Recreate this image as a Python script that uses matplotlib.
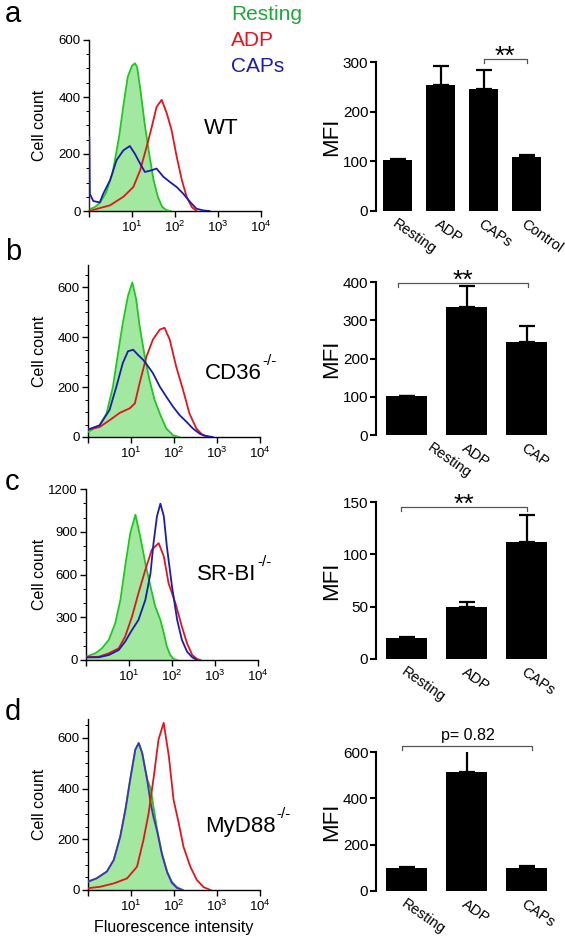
import numpy as np
import matplotlib
matplotlib.use('Agg')
import matplotlib.pyplot as plt
import matplotlib.transforms as mtransforms
from matplotlib.ticker import FixedLocator, MultipleLocator, NullFormatter, LogLocator

# --- colours ---
GREEN_LINE = '#1ec81e'
GREEN_FILL = '#a3e8a0'
GREEN_TXT = '#1fa83a'
RED = '#e3141b'
BLUE = '#1c1cae'
PURPLE = '#4a2cc4'
GREY = '#555555'

plt.rcParams.update({
    'font.family': ['Liberation Sans', 'DejaVu Sans'],
    'mathtext.default': 'regular',
    'axes.spines.top': False,
    'axes.spines.right': False,
    'axes.linewidth': 1.0,
})

# --- histogram data: log10(fluorescence) and cell counts ---
A_REST_LOG = [0.0, 0.15, 0.26, 0.4, 0.55, 0.7, 0.8, 0.9, 1.0, 1.07, 1.12, 1.2, 1.3, 1.4, 1.5, 1.6, 1.7, 1.8, 1.9]
A_REST_CNT = [5, 15, 30, 65, 135, 260, 370, 470, 510, 518, 505, 420, 300, 200, 110, 50, 15, 3, 0]
A_ADP_LOG = [0.0, 0.49, 0.8, 1.03, 1.19, 1.34, 1.46, 1.57, 1.69, 1.81, 1.92, 2.04, 2.16, 2.27, 2.39, 2.5]
A_ADP_CNT = [0, 20, 50, 84, 143, 225, 295, 365, 390, 342, 284, 190, 108, 50, 14, 0]
A_CAP_LOG = [0.0, 0.005, 0.02, 0.1, 0.25, 0.33, 0.49, 0.64, 0.8, 0.95, 1.07, 1.19, 1.3, 1.46,
             1.57, 1.73, 1.88, 2.04, 2.19, 2.35, 2.5, 2.66, 2.8]
A_CAP_CNT = [0, 260, 60, 35, 30, 60, 108, 178, 213, 228, 200, 166, 137, 143,
             149, 120, 102, 84, 61, 32, 8, 2, 0]

B_REST_LOG = [0.0, 0.27, 0.43, 0.58, 0.7, 0.81, 0.93, 1.03, 1.12, 1.2, 1.32, 1.43, 1.55, 1.67, 1.82, 1.98, 2.12]
B_REST_CNT = [20, 47, 94, 202, 337, 458, 566, 620, 553, 445, 323, 229, 148, 94, 34, 7, 0]
B_ADP_LOG = [0.0, 0.27, 0.5, 0.74, 0.97, 1.09, 1.2, 1.36, 1.51, 1.67, 1.78, 1.9, 2.05, 2.21, 2.36, 2.52, 2.67, 2.83]
B_ADP_CNT = [30, 40, 67, 97, 115, 135, 216, 323, 391, 431, 438, 391, 283, 189, 94, 34, 7, 0]
B_CAP_LOG = [0.0, 0.27, 0.5, 0.66, 0.81, 0.93, 1.05, 1.16, 1.28, 1.4, 1.51, 1.67, 1.82, 1.98,
             2.13, 2.29, 2.44, 2.6, 2.75, 2.9]
B_CAP_CNT = [30, 47, 108, 202, 297, 344, 350, 330, 310, 283, 256, 202, 162, 121, 88, 61, 34, 13, 4, 0]

C_REST_LOG = [0.0, 0.22, 0.37, 0.53, 0.68, 0.8, 0.91, 1.03, 1.15, 1.26, 1.38, 1.5, 1.61, 1.73,
              1.81, 1.88, 1.96, 2.04, 2.12]
C_REST_CNT = [23, 47, 82, 141, 258, 422, 656, 891, 1020, 867, 680, 516, 375, 281, 188, 94, 35, 7, 0]
C_ADP_LOG = [0.0, 0.3, 0.53, 0.76, 0.91, 1.07, 1.22, 1.38, 1.53, 1.69, 1.81, 1.92, 2.08, 2.23, 2.35, 2.47, 2.58, 2.66]
C_ADP_CNT = [19, 23, 47, 82, 164, 305, 469, 633, 774, 820, 727, 539, 398, 234, 117, 35, 7, 0]
C_CAP_LOG = [0.0, 0.3, 0.53, 0.76, 0.91, 1.07, 1.22, 1.38, 1.5, 1.57, 1.65, 1.73, 1.81, 1.88,
             2.0, 2.12, 2.23, 2.35, 2.47, 2.58]
C_CAP_CNT = [19, 19, 35, 70, 129, 211, 281, 422, 609, 820, 1008, 1097, 1008, 797, 516, 281, 141, 59, 19, 0]

D_REST_LOG = [0.0, 0.2, 0.44, 0.6, 0.75, 0.87, 0.98, 1.1, 1.18, 1.26, 1.38, 1.46, 1.52, 1.61,
              1.72, 1.84, 1.95, 2.07, 2.2]
D_REST_CNT = [33, 46, 73, 119, 211, 317, 435, 554, 580, 541, 435, 400, 330, 237, 145, 73, 33, 11, 0]
D_CAP_CNT = [33, 46, 73, 119, 211, 317, 435, 554, 580, 541, 430, 340, 290, 230, 140, 70, 28, 8, 0]
D_ADP_LOG = [0.0, 0.29, 0.6, 0.91, 1.14, 1.29, 1.41, 1.53, 1.64, 1.76, 1.88, 1.99, 2.11, 2.22,
             2.38, 2.53, 2.69, 2.85]
D_ADP_CNT = [7, 13, 26, 46, 92, 198, 303, 448, 594, 660, 528, 356, 264, 171, 92, 40, 11, 0]

# --- MFI bar data ---
A_LABELS = ['Resting', 'ADP', 'CAPs', 'Control']
A_MFI = [102, 254, 246, 108]
A_ERR = [2, 37, 38, 5]
B_LABELS = ['Resting', 'ADP', 'CAP']
B_MFI = [102, 334, 243]
B_ERR = [1, 56, 42]
C_LABELS = ['Resting', 'ADP', 'CAPs']
C_MFI = [20, 50, 112]
C_ERR = [1, 4, 26]
D_LABELS = ['Resting', 'ADP', 'CAPs']
D_MFI = [101, 514, 100]
D_ERR = [1, 96, 10]

W, H = 565, 944
fig = plt.figure(figsize=(W / 100, H / 100), dpi=100)
renderer = fig.canvas.get_renderer()


def px_axes(left, top, right, bottom):
    return fig.add_axes([left / W, 1 - bottom / H, (right - left) / W, (bottom - top) / H])


def genotype(ax, name, sup, gx, gy):
    t = ax.text(gx, gy, name, transform=ax.transAxes, fontsize=16, va='center', ha='left')
    if sup:
        bb = t.get_window_extent(renderer)
        fig.text((bb.x1 + 1) / W, (bb.y1 - 5) / H, sup, fontsize=11, va='bottom', ha='left')


def histo(box, curves, ymax, yticks, ystep, geno, sup, gx, gy, xlabel=False):
    ax = px_axes(*box)
    rest_log, rest_cnt = curves[0]
    xs = 10 ** np.array(rest_log)
    ax.fill_between(xs, rest_cnt, color=GREEN_FILL, lw=0, zorder=1)
    ax.plot(xs, rest_cnt, color=GREEN_LINE, lw=1.3, zorder=3)
    for (lg, cnt), col in curves[1:]:
        ax.plot(10 ** np.array(lg), cnt, color=col, lw=1.3, zorder=4)
    ax.set_xscale('log')
    ax.set_xlim(1, 1e4)
    ax.set_ylim(0, ymax)
    ax.xaxis.set_major_locator(FixedLocator([1, 10, 100, 1000, 10000]))
    ax.set_xticklabels(['', '$10^{1}$', '$10^{2}$', '$10^{3}$', '$10^{4}$'])
    ax.xaxis.set_minor_locator(LogLocator(base=10, subs=np.arange(2, 10)))
    ax.xaxis.set_minor_formatter(NullFormatter())
    ax.set_yticks(yticks)
    ax.yaxis.set_minor_locator(MultipleLocator(ystep))
    ax.tick_params(which='major', length=4, width=1, labelsize=9.5, pad=2)
    ax.tick_params(which='minor', length=2, width=0.7)
    ax.set_ylabel('Cell count', fontsize=11.5)
    bb = ax.get_position()
    ax.yaxis.set_label_coords((47 / W - bb.x0) / bb.width, 0.5)
    genotype(ax, geno, sup, gx, gy)
    if xlabel:
        ax.set_xlabel('Fluorescence intensity', fontsize=11.5, labelpad=5)
    return ax


def bars(box, labels, vals, errs, xlim, width, ymax, ystep, bracket, sig, label_dx=None):
    ax = px_axes(*box)
    x = np.arange(len(vals))
    ax.bar(x, vals, width=width, color='black', zorder=2)
    ax.errorbar(x, vals, yerr=[np.zeros(len(errs)), errs], fmt='none', ecolor='black',
                elinewidth=1.6, capsize=6, capthick=1.6, zorder=3)
    ax.set_xlim(*xlim)
    ax.set_ylim(0, ymax)
    ax.set_yticks(np.arange(0, ymax + 1, ystep))
    ax.spines['bottom'].set_visible(False)
    ax.spines['left'].set_linewidth(1.5)
    ax.tick_params(axis='y', length=4, width=1.5, labelsize=11, pad=1.5)
    ax.tick_params(axis='x', length=0, labelsize=10.5, pad=4)
    ax.set_xticks(x)
    ax.set_xticklabels(labels, rotation=-35, ha='left', va='top', rotation_mode='anchor')
    if label_dx:
        for lab, dx in zip(ax.get_xticklabels(), label_dx):
            lab.set_transform(lab.get_transform() + mtransforms.ScaledTranslation(dx / 100, 0, fig.dpi_scale_trans))
    ax.set_ylabel('MFI', fontsize=16)
    bb = ax.get_position()
    ax.yaxis.set_label_coords((342 / W - bb.x0) / bb.width, 0.5)
    x0, x1, yb, ydrop = bracket
    ax.plot([x0, x0, x1, x1], [yb - ydrop, yb, yb, yb - ydrop], color=GREY, lw=0.9, clip_on=False)
    if sig == '**':
        ax.annotate(sig, ((x0 + x1) / 2, yb), xytext=(0, -3.5), textcoords='offset points',
                    ha='center', va='baseline', fontsize=19, annotation_clip=False)
    else:
        ax.annotate(sig, ((x0 + x1) / 2, yb), xytext=(0, 2), textcoords='offset points',
                    ha='center', va='bottom', fontsize=11.5, annotation_clip=False)
    return ax


histo((89, 40, 261, 211),
      [(A_REST_LOG, A_REST_CNT), ((A_ADP_LOG, A_ADP_CNT), RED), ((A_CAP_LOG, A_CAP_CNT), BLUE)],
      600, [0, 200, 400, 600], 50, 'WT', '', 0.67, 0.485)
histo((88, 265, 260, 437),
      [(B_REST_LOG, B_REST_CNT), ((B_ADP_LOG, B_ADP_CNT), RED), ((B_CAP_LOG, B_CAP_CNT), BLUE)],
      690, [0, 200, 400, 600], 50, 'CD36', '-/-', 0.68, 0.37)
histo((86, 489, 258, 660),
      [(C_REST_LOG, C_REST_CNT), ((C_ADP_LOG, C_ADP_CNT), RED), ((C_CAP_LOG, C_CAP_CNT), BLUE)],
      1200, [0, 300, 600, 900, 1200], 100, 'SR-BI', '-/-', 0.645, 0.50)
histo((88, 719, 260, 890),
      [(D_REST_LOG, D_REST_CNT), ((D_REST_LOG, D_CAP_CNT), PURPLE), ((D_ADP_LOG, D_ADP_CNT), RED)],
      675, [0, 200, 400, 600], 50, 'MyD88', '-/-', 0.68, 0.37, xlabel=True)

bars((376, 62, 548, 211), A_LABELS, A_MFI, A_ERR, (-0.5, 3.5), 0.67, 300, 100,
     (2.0, 3.0, 306, 8), '**')
bars((376, 282, 557, 435), B_LABELS, B_MFI, B_ERR, (-0.51, 2.5), 0.68, 400, 100,
     (-0.14, 2.02, 397, 10), '**', label_dx=[26, 0, 0])
bars((376, 502, 557, 659), C_LABELS, C_MFI, C_ERR, (-0.51, 2.5), 0.68, 150, 50,
     (-0.09, 2.0, 145, 4), '**')
bars((376, 752, 557, 891), D_LABELS, D_MFI, D_ERR, (-0.51, 2.5), 0.68, 600, 200,
     (-0.07, 2.09, 626, 17), 'p= 0.82')

# panel letters
for letter, ypx in [('a', 14), ('b', 252), ('c', 482), ('d', 712)]:
    fig.text(5 / W, 1 - ypx / H, letter, fontsize=21, va='center', ha='left')

# legend in panel a
for name, col, ypx in [('Resting', GREEN_TXT, 15), ('ADP', RED, 41), ('CAPs', BLUE, 67)]:
    fig.text(231 / W, 1 - ypx / H, name, color=col, fontsize=15, va='center', ha='left')

fig.savefig('out.png', dpi=100)
